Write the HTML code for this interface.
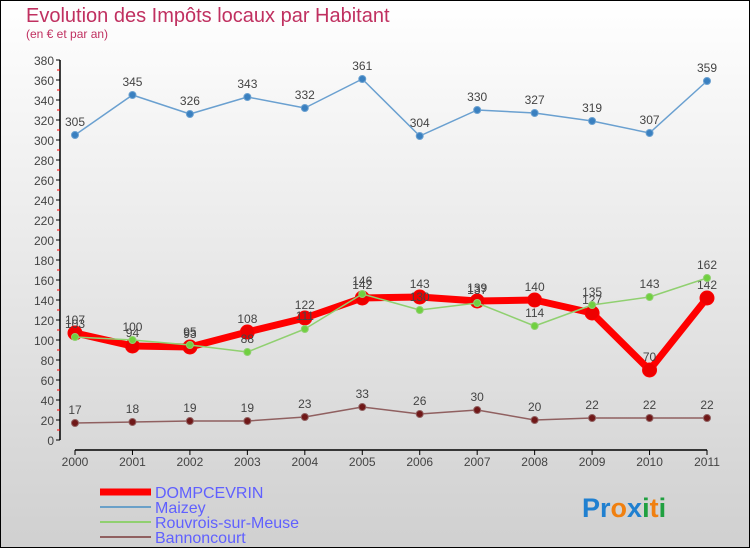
<!DOCTYPE html>
<html><head><meta charset="utf-8"><style>
body{margin:0;width:750px;height:550px;overflow:hidden;font-family:"Liberation Sans",sans-serif}
</style></head><body>
<svg id="c" width="750" height="550" xmlns="http://www.w3.org/2000/svg">
<defs><linearGradient id="bg" x1="0" y1="0" x2="0" y2="1"><stop offset="0" stop-color="#ffffff"/><stop offset="1" stop-color="#d0d0d0"/></linearGradient></defs>
<rect x="0.5" y="0.5" width="749" height="547" fill="url(#bg)" stroke="#000"/>
<text x="26" y="22" font-size="20" fill="#c03060">Evolution des Impôts locaux par Habitant</text>
<text x="26" y="38" font-size="12" fill="#c03060">(en € et par an)</text>
<g id="axes"></g><g id="series"></g>
<g>
<line x1="100" y1="492" x2="151" y2="492" stroke="#f00" stroke-width="7"/>
<text x="155" y="498" font-size="16" fill="#6060ff">DOMPCEVRIN</text>
<line x1="100" y1="507" x2="151" y2="507" stroke="#6aa0c8" stroke-width="2"/>
<text x="155" y="513" font-size="16" fill="#6060ff">Maizey</text>
<line x1="100" y1="522" x2="151" y2="522" stroke="#90d070" stroke-width="2"/>
<text x="155" y="528" font-size="16" fill="#6060ff">Rouvrois-sur-Meuse</text>
<line x1="100" y1="537" x2="151" y2="537" stroke="#906060" stroke-width="2"/>
<text x="155" y="543" font-size="16" fill="#6060ff">Bannoncourt</text>
</g>
<text x="582" y="517" font-size="27" font-weight="bold"><tspan fill="#2080d0">Pr</tspan><tspan fill="#f08010">o</tspan><tspan fill="#2080d0">x</tspan><tspan fill="#20a040">i</tspan><tspan fill="#f08010">t</tspan><tspan fill="#20a040">i</tspan></text>
</svg>
<script>
const years=["2000","2001","2002","2003","2004","2005","2006","2007","2008","2009","2010","2011"];
const dompcevrin=[107,94,93,108,122,142,143,139,140,127,70,142];
const maizey=[305,345,326,343,332,361,304,330,327,319,307,359];
const rouvrois=[103,100,95,88,111,146,130,137,114,135,143,162];
const bannoncourt=[17,18,19,19,23,33,26,30,20,22,22,22];
const yTicks=[0,20,40,60,80,100,120,140,160,180,200,220,240,260,280,300,320,340,360,380];
const NS="http://www.w3.org/2000/svg";
const X=i=>75+i*(707-75)/11, Y=v=>440-v*(380/380);
function mk(t,a,p){const e=document.createElementNS(NS,t);for(const k in a)e.setAttribute(k,a[k]);p.appendChild(e);return e;}
const ax=document.getElementById('axes');
let l=mk('line',{x1:60,y1:Y(380),x2:60,y2:Y(0),stroke:'#000','stroke-width':1.5},ax);


yTicks.forEach(v=>{
 let t=mk('line',{x1:56,y1:Y(v),x2:60,y2:Y(v),stroke:'#000'},ax);
 
 
 if(v<380){let m=mk('line',{x1:57,y1:Y(v+10),x2:60,y2:Y(v+10),stroke:'#f00'},ax);
 
 }
 let tx=mk('text',{x:54,y:Y(v)+5,'text-anchor':'end','font-size':12,fill:'#444'},ax);tx.textContent=v;
 
 
});
l=mk('line',{x1:X(0),y1:450,x2:X(11),y2:450,stroke:'#000','stroke-width':1.5},ax);


years.forEach((y,i)=>{
 let t=mk('line',{x1:X(i),y1:450,x2:X(i),y2:455,stroke:'#000'},ax);
 
 
 let tx=mk('text',{x:X(i),y:466,'text-anchor':'middle','font-size':12,fill:'#444'},ax);tx.textContent=y;
 
 
});
const sg=document.getElementById('series');
function series(name,data,color,w,r,dot){
 const g=mk('g',{},sg);
 
 
 const p=mk('polyline',{points:data.map((v,i)=>X(i)+','+Y(v)).join(' '),fill:'none',stroke:color,'stroke-width':w,'stroke-linejoin':'round'},g);
 
 
 data.forEach((v,i)=>{
  const c=mk('circle',{cx:X(i),cy:Y(v),r:r,fill:dot,stroke:color,'stroke-width':1},g);
  
  
  const t=mk('text',{x:X(i),y:Y(v)-9,'text-anchor':'middle','font-size':12,fill:'#444'},g);t.textContent=v;
  
  
 });
}
series('maizey',maizey,'#6aa0d0',1.5,3.5,'#3a80c0');
series('bannoncourt',bannoncourt,'#906060',1.5,3.5,'#701818');
series('dompcevrin',dompcevrin,'#f00',7,7,'#e00');
series('rouvrois',rouvrois,'#90d070',1.5,3.5,'#70d040');
</script>
</body></html>
